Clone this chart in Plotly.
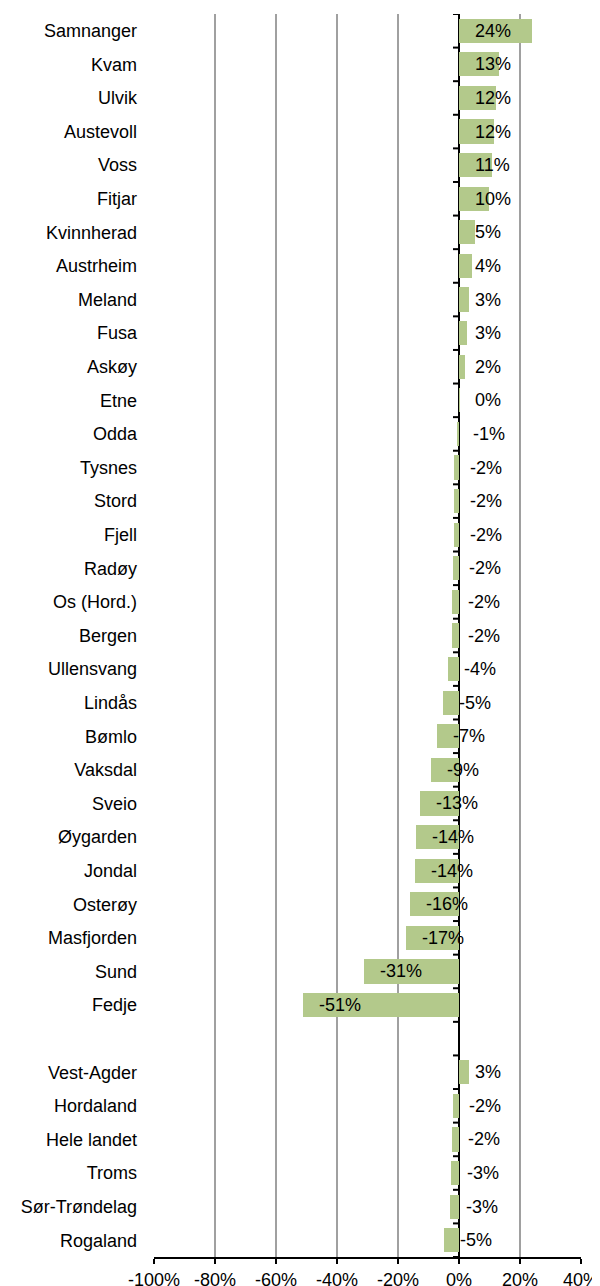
import plotly.graph_objects as go

municipalities = [
    "Samnanger", "Kvam", "Ulvik", "Austevoll", "Voss", "Fitjar", "Kvinnherad",
    "Austrheim", "Meland", "Fusa", "Askøy", "Etne", "Odda", "Tysnes", "Stord",
    "Fjell", "Radøy", "Os (Hord.)", "Bergen", "Ullensvang", "Lindås", "Bømlo",
    "Vaksdal", "Sveio", "Øygarden", "Jondal", "Osterøy", "Masfjorden", "Sund",
    "Fedje",
]
municipality_change = [
    23.8, 13.2, 12.2, 11.6, 10.7, 9.8, 5.1, 4.2, 3.2, 2.7, 2.0, 0.2, -0.6,
    -1.6, -1.7, -1.8, -1.9, -2.2, -2.3, -3.6, -5.3, -7.2, -9.2, -12.8, -14.2,
    -14.4, -16.0, -17.4, -31.1, -51.3,
]
regions = ["Vest-Agder", "Hordaland", "Hele landet", "Troms", "Sør-Trøndelag", "Rogaland"]
region_change = [3.3, -2.0, -2.2, -2.6, -2.8, -4.8]

x_ticks = [-100, -80, -60, -40, -20, 0, 20, 40]

# one empty row between the municipalities and the regions
labels = municipalities + [""] + regions
values = municipality_change + [None] + region_change
rows = list(range(len(labels)))

bar_rows = [r for r, v in zip(rows, values) if v is not None]
bar_vals = [v for v in values if v is not None]

fig = go.Figure()

fig.add_trace(go.Bar(
    x=bar_vals,
    y=bar_rows,
    orientation="h",
    width=0.72,
    marker=dict(color="#b3c98b", line=dict(width=0)),
    hoverinfo="x+y",
))

# data labels, starting just right of each bar's left end
for r, v in zip(bar_rows, bar_vals):
    fig.add_annotation(
        x=min(v, 0), y=r, xref="x", yref="y",
        text=f"{round(v):.0f}%",
        showarrow=False, xanchor="left", yanchor="middle", xshift=14,
        font=dict(size=18, color="#000000"),
    )

# small tick marks on the left of the zero line, between rows
for r in range(len(labels) + 1):
    fig.add_shape(
        type="line", xref="x", yref="y",
        xsizemode="pixel", xanchor=0, x0=-6, x1=0,
        y0=r - 0.5, y1=r - 0.5,
        line=dict(color="#000000", width=2),
    )

# the page body adds 8px around the figure, so margins allow for that
fig.update_layout(
    width=600,
    height=1286,
    paper_bgcolor="#ffffff",
    plot_bgcolor="#ffffff",
    font=dict(family="Liberation Sans, Arial, sans-serif", color="#000000"),
    margin=dict(l=146, r=27, t=6, b=37),
    showlegend=False,
    bargap=0,
    xaxis=dict(
        range=[-100, 40],
        tickvals=x_ticks,
        ticktext=[f"{t}%" for t in x_ticks],
        tickfont=dict(size=18),
        showgrid=True,
        gridcolor="#a0a0a0",
        gridwidth=2,
        zeroline=True,
        zerolinecolor="#000000",
        zerolinewidth=2,
        showline=True,
        linecolor="#000000",
        linewidth=2,
        ticks="outside",
        ticklen=5,
        tickwidth=2,
        tickcolor="#000000",
        ticklabelstandoff=0,
        automargin=False,
    ),
    yaxis=dict(
        range=[len(labels) - 0.5, -0.5],
        tickvals=rows,
        ticktext=labels,
        tickfont=dict(size=18),
        showgrid=False,
        zeroline=False,
        showline=False,
        ticks="",
        ticklabelstandoff=16,
        automargin=False,
    ),
)

fig.write_html("out.html")
